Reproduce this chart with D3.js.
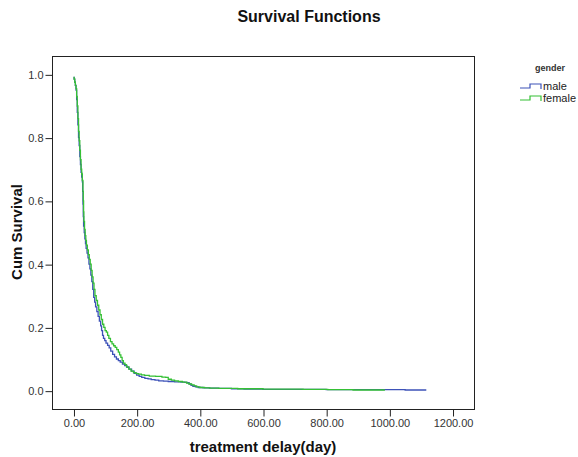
<!DOCTYPE html>
<html>
<head>
<meta charset="utf-8">
<script src="https://cdn.jsdelivr.net/npm/d3@7"></script>
<style>
  html, body { margin: 0; padding: 0; background: #fff; }
  svg { display: block; font-family: "Liberation Sans", Arial, sans-serif; }
</style>
</head>
<body>
<svg id="chart" width="578" height="457"></svg>
<script>
// ---- data ----
const chartTitle = "Survival Functions";
const xTitle = "treatment delay(day)";
const yTitle = "Cum Survival";
const legendTitle = "gender";
const groups = ["male", "female"];
const xTicks = [0, 200, 400, 600, 800, 1000, 1200];
const yTicks = [0.0, 0.2, 0.4, 0.6, 0.8, 1.0];

const maleTime = [0,2,4,6,8,10,12,14,16,18,20,22,24,26,28,29,30,31,32,34,36,38,40,43,46,49,52,55,58,61,64,67,70,74,78,82,86,89,92,95,99,103,108,113,118,124,130,136,142,148,155,162,169,176,184,192,200,208,216,226,236,246,258,270,285,300,320,340,352,360,366,372,378,386,395,410,430,460,500,540,600,720,800,900,1050,1117];
const maleSurv = [0.99,0.985,0.975,0.965,0.95,0.92,0.88,0.84,0.80,0.775,0.74,0.715,0.69,0.675,0.66,0.63,0.59,0.55,0.52,0.50,0.48,0.465,0.45,0.435,0.42,0.40,0.385,0.365,0.345,0.32,0.295,0.28,0.265,0.25,0.235,0.22,0.205,0.19,0.175,0.165,0.158,0.15,0.143,0.135,0.125,0.115,0.107,0.100,0.095,0.090,0.084,0.079,0.074,0.068,0.062,0.055,0.049,0.045,0.042,0.039,0.037,0.035,0.033,0.031,0.030,0.029,0.028,0.027,0.026,0.025,0.021,0.017,0.014,0.012,0.010,0.009,0.008,0.007,0.006,0.005,0.004,0.004,0.003,0.003,0.002,0.002];

const femaleTime = [0,2,4,6,8,10,12,14,16,18,20,22,24,26,28,30,31,32,33,35,37,39,41,44,47,50,53,56,59,62,65,68,72,76,80,84,88,92,96,100,104,108,112,117,122,127,132,137,142,146,150,154,158,163,168,175,182,190,198,206,215,225,240,260,280,292,300,310,320,332,345,358,366,374,382,390,400,415,432,460,520,600,727,805,885,986];
const femaleSurv = [0.99,0.985,0.975,0.965,0.955,0.93,0.90,0.86,0.82,0.79,0.76,0.73,0.70,0.685,0.665,0.63,0.60,0.565,0.535,0.51,0.49,0.475,0.46,0.445,0.43,0.415,0.40,0.38,0.36,0.34,0.32,0.30,0.285,0.27,0.255,0.24,0.225,0.21,0.20,0.19,0.185,0.175,0.165,0.155,0.148,0.142,0.137,0.13,0.122,0.113,0.105,0.095,0.087,0.082,0.075,0.068,0.062,0.057,0.054,0.052,0.050,0.048,0.046,0.045,0.043,0.042,0.036,0.033,0.031,0.029,0.027,0.024,0.021,0.018,0.015,0.012,0.010,0.009,0.008,0.007,0.006,0.005,0.004,0.003,0.002,0.002];

const colors = ["#3d52b8", "#35c035"];

// ---- layout ----
const svg = d3.select("#chart");
const plot = { left: 52, right: 474, top: 56, bottom: 409 };

const x = d3.scaleLinear().domain([-68, 1268]).range([plot.left, plot.right]);
const y = d3.scaleLinear().domain([-0.058, 1.058]).range([plot.bottom, plot.top]);

// frame
svg.append("rect")
  .attr("x", plot.left + 0.5).attr("y", plot.top + 0.5)
  .attr("width", plot.right - plot.left).attr("height", plot.bottom - plot.top)
  .attr("fill", "none").attr("stroke", "#222").attr("stroke-width", 1);

// axes
const xAxis = d3.axisBottom(x).tickValues(xTicks).tickFormat(d3.format(".2f")).tickSizeOuter(0).tickSize(7).tickPadding(3);
const gx = svg.append("g").attr("transform", `translate(0.5,${plot.bottom + 0.5})`).call(xAxis);
gx.select(".domain").remove();
gx.selectAll("line").attr("stroke", "#222");
gx.selectAll("text").attr("font-size", 11).attr("fill", "#333").attr("font-family", "Liberation Sans, Arial, sans-serif");

const yAxis = d3.axisLeft(y).tickValues(yTicks).tickFormat(d3.format(".1f")).tickSizeOuter(0).tickSize(7).tickPadding(2);
const gy = svg.append("g").attr("transform", `translate(${plot.left + 0.5},0.5)`).call(yAxis);
gy.select(".domain").remove();
gy.selectAll("line").attr("stroke", "#222");
gy.selectAll("text").attr("font-size", 11).attr("fill", "#333").attr("font-family", "Liberation Sans, Arial, sans-serif");

// titles
svg.append("text").attr("x", 309).attr("y", 22).attr("text-anchor", "middle")
  .attr("font-size", 16).attr("font-weight", "bold").attr("fill", "#111").text(chartTitle);
svg.append("text").attr("x", (plot.left + plot.right) / 2).attr("y", 452).attr("text-anchor", "middle")
  .attr("font-size", 15).attr("font-weight", "bold").attr("fill", "#111").text(xTitle);
svg.append("text").attr("transform", `translate(22,232) rotate(-90)`).attr("text-anchor", "middle")
  .attr("font-size", 15).attr("font-weight", "bold").attr("fill", "#111").text(yTitle);

// curves
const series = [
  { name: groups[0], t: maleTime, s: maleSurv, color: colors[0] },
  { name: groups[1], t: femaleTime, s: femaleSurv, color: colors[1] }
];
const line = d3.line().x(d => x(d[0])).y(d => y(d[1])).curve(d3.curveStepAfter);
svg.append("clipPath").attr("id", "clip").append("rect")
  .attr("x", plot.left).attr("y", plot.top).attr("width", plot.right - plot.left).attr("height", plot.bottom - plot.top);
series.forEach(sr => {
  const pts = sr.t.map((t, i) => [t, sr.s[i]]);
  svg.append("path").attr("d", line(pts)).attr("fill", "none")
    .attr("stroke", sr.color).attr("stroke-width", 1.3).attr("clip-path", "url(#clip)");
});

// legend
const lg = svg.append("g");
lg.append("text").attr("x", 550).attr("y", 71).attr("text-anchor", "middle")
  .attr("font-size", 9).attr("font-weight", "bold").attr("fill", "#333").text(legendTitle);
series.forEach((sr, i) => {
  const yy = 87 + i * 12;
  lg.append("path")
    .attr("d", `M520,${yy + 1}H530V${yy - 3}H541V${yy + 2}`)
    .attr("fill", "none").attr("stroke", sr.color).attr("stroke-width", 1.2);
  lg.append("text").attr("x", 543).attr("y", yy + 3).attr("font-size", 11).attr("fill", "#222").text(sr.name);
});
</script>
</body>
</html>
